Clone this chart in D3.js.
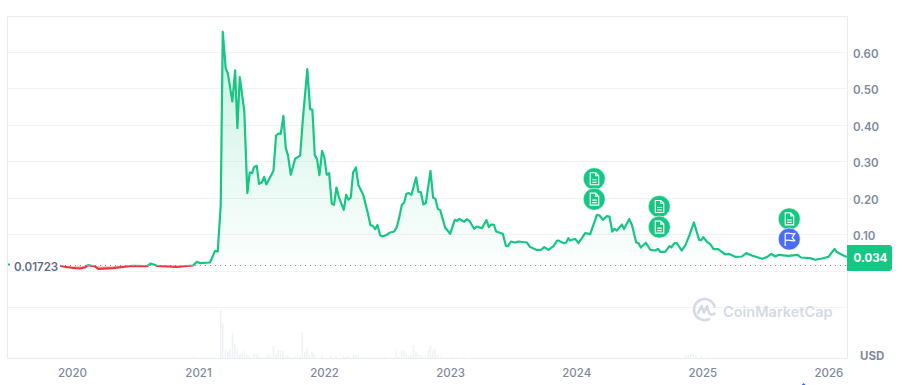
<!DOCTYPE html>
<html>
<head>
<meta charset="utf-8">
<style>
  html, body { margin: 0; padding: 0; background: #fff; }
  svg { display: block; }
  text { font-family: Inter, "Noto Sans", sans-serif; }
</style>
<script src="https://cdnjs.cloudflare.com/ajax/libs/d3/7.8.5/d3.min.js"></script>
</head>
<body>
<div id="chart"></div>
<script>
/*Price series: decimal year and price in USD*/
var priceYears = [
  2019.905,2019.944,2020.000,2020.063,2020.103,2020.127,2020.183,2020.209,2020.325,2020.405,2020.476,2020.595,2020.625,2020.675,2020.833,2020.960,2020.990,
  2021.016,2021.095,2021.135,2021.156,2021.171,2021.180,2021.196,2021.220,2021.236,2021.272,2021.294,2021.312,2021.331,2021.367,2021.391,2021.410,2021.429,2021.444,2021.466,2021.484,2021.506,2021.524,2021.542,2021.598,2021.619,2021.637,2021.656,2021.677,2021.696,2021.714,2021.736,2021.770,2021.791,2021.810,2021.831,2021.867,2021.889,2021.907,2021.926,2021.944,2021.963,2021.984,
  2022.002,2022.021,2022.040,2022.061,2022.079,2022.098,2022.117,2022.156,2022.175,2022.193,2022.212,2022.230,2022.252,2022.272,2022.310,2022.347,2022.367,2022.386,2022.405,2022.423,2022.444,2022.463,2022.498,2022.518,2022.556,2022.577,2022.595,2022.617,2022.635,2022.653,2022.672,2022.693,2022.730,2022.748,2022.767,2022.788,2022.807,2022.844,2022.865,2022.883,2022.902,2022.921,2022.960,
  2023.000,2023.037,2023.053,2023.074,2023.111,2023.133,2023.153,2023.190,2023.212,2023.252,2023.288,2023.307,2023.325,2023.347,2023.365,2023.418,2023.442,2023.458,2023.482,2023.516,2023.542,2023.609,2023.635,2023.683,2023.722,2023.746,2023.780,2023.820,2023.847,2023.859,2023.899,2023.921,2023.937,2023.952,2023.992,
  2024.018,2024.045,2024.071,2024.111,2024.164,2024.185,2024.212,2024.244,2024.264,2024.286,2024.304,2024.323,2024.363,2024.379,2024.421,2024.442,2024.476,2024.494,2024.513,2024.553,2024.587,2024.627,2024.648,2024.667,2024.706,2024.740,2024.754,2024.780,2024.799,2024.836,2024.867,2024.899,2024.934,2024.976,2024.994,
  2025.008,2025.037,2025.063,2025.090,2025.127,2025.151,2025.183,2025.209,2025.262,2025.315,2025.349,2025.394,2025.474,2025.513,2025.548,2025.579,2025.606,2025.685,2025.756,2025.783,2025.857,2025.897,2025.950,
  2026.002,2026.049,2026.068,2026.108,2026.147
];
var priceValues = [
  .0167,.0137,.0110,.0090,.0123,.0184,.0145,.0082,.0101,.0137,.0164,.0156,.0227,.0164,.0137,.0173,.0274,
  .0238,.0255,.0575,.0556,.134,.1836,.6576,.5554,.5444,.4666,.5516,.3937,.5335,.4392,.2156,.2721,.2704,.2869,.2904,.2411,.2447,.2603,.2392,.2767,.3735,.3789,.3781,.4274,.3389,.3178,.2658,.3096,.3143,.3186,.4164,.5554,.4458,.4438,.3197,.3088,.2649,.3315,
  .3132,.2658,.2704,.1863,.1836,.2310,.2047,.1699,.2110,.1973,.2036,.2721,.2858,.2376,.2110,.1608,.1280,.1260,.1170,.1280,.1006,.0967,.1014,.1069,.1104,.1225,.1471,.1836,.1899,.2137,.2156,.2110,.2584,.2192,.2184,.1844,.1882,.2767,.2027,.2000,.1726,.1690,.1214,
  .1041,.1425,.1397,.1452,.1370,.1444,.1397,.1178,.1241,.1197,.1417,.1225,.1296,.1288,.1104,.1041,.0712,.0704,.0830,.0803,.0830,.0803,.0677,.0603,.0603,.0677,.0603,.0704,.0849,.0858,.0786,.0803,.0923,.0858,.0904,
  .0786,.0923,.1060,.1033,.1562,.1543,.1425,.1526,.1515,.1104,.1178,.1132,.1296,.1170,.1444,.1288,.0803,.0786,.0666,.0795,.0603,.0584,.0630,.0548,.0548,.0704,.0666,.0786,.0786,.0584,.0732,.1014,.1351,.0869,.0877,
  .0951,.0822,.0759,.0622,.0622,.0556,.0474,.0493,.0411,.0419,.0512,.0447,.0356,.0403,.0493,.0419,.0466,.0438,.0466,.0392,.0375,.0329,.0364,
  .0411,.0630,.0540,.0466,.0403
];

/*Volume bars, in relative units*/
var volumeYears = [
  2020.963,2020.981,2021.122,2021.180,2021.196,2021.217,2021.236,2021.254,2021.273,2021.291,2021.312,2021.331,2021.349,2021.368,2021.386,2021.405,2021.447,2021.466,2021.484,2021.519,2021.540,2021.558,2021.577,2021.598,2021.617,2021.635,2021.654,2021.675,2021.693,2021.712,2021.730,2021.770,2021.789,2021.810,2021.828,2021.847,2021.865,2021.884,2021.905,2021.923,2021.942,2021.982,
  2022.000,2022.058,2022.095,2022.154,2022.175,2022.193,2022.233,2022.252,2022.270,2022.289,2022.326,2022.484,2022.572,2022.593,2022.614,2022.633,2022.651,2022.672,2022.691,2022.709,2022.728,2022.746,2022.768,2022.786,2022.805,2022.828,2022.844,2022.863,2022.881,2022.900,2022.921,2022.940,
  2023.016,2023.053,2023.112,2023.950,2024.390,2024.870,2024.890,2024.910,2024.930,2024.950,2024.990,2025.050
];
var volumeValues = [
  1.7,1.7,1,48.3,35,10,7.3,10,25.7,14.3,10,4.3,5.7,7.3,4.3,2.3,4.3,4.3,1.7,1,1.7,5,2.3,12.3,5,8.3,7.7,8.3,2.3,3.3,1,1.7,2.3,2.3,26.3,6.7,10,4.3,6.3,4,1,3,
  1,2.3,2.3,3,1.7,2.3,4.3,3.3,3.3,1.7,1,1.7,7.3,1.7,7.3,8.3,5,2.3,3.3,13.3,6.7,4.3,3.3,1.7,3.3,8.3,12.3,8.3,9.3,4.3,2.3,1,
  1.7,1.7,1.7,1,1,3,4,5,4.5,3,2,2
];

var yearTicks = [2020,2021,2022,2023,2024,2025,2026];
var priceTicks = [0.1,0.2,0.3,0.4,0.5,0.6];
var gridLevels = [0,0.1,0.2,0.3,0.4,0.5,0.6];
var basePrice = 0.01723;
var lastPrice = 0.034;

/*News and flag markers above the line*/
var eventYears = [2024.143,2024.143,2024.659,2024.659,2025.690,2025.690];
var eventLevels = [0.255,0.199,0.179,0.1225,0.145,0.0896];
var eventTypes = ["doc","doc","doc","doc","doc","flag"];

var canvasWidth = 906;
var canvasHeight = 385;
var green = "#16c784";
var red = "#ea3943";
var gridColor = "#f1f2f4";
var textColor = "#808a9d";

var left = 7.5, right = 847.5, top_ = 16.5, bottom = 358.5, sep = 307.5;

var svg = d3.select("div#chart").append("svg")
    .attr("width", canvasWidth)
    .attr("height", canvasHeight)
    .attr("viewBox", "0 0 906 385");

/*Scales*/
var xScale = d3.scaleLinear().domain([2020, 2026]).range([72, 828.3]);
var yScale = d3.scaleLinear().domain([0, 0.7]).range([271.8, 16.3]);
var volScale = d3.scaleLinear().domain([0, 48.3]).range([bottom, bottom - 48.3]);

var series = priceYears.map(function (d, i) { return {year: d, price: priceValues[i]}; });
var volumes = volumeYears.map(function (d, i) { return {year: d, volume: volumeValues[i]}; });
var events = eventYears.map(function (d, i) { return {year: d, level: eventLevels[i], type: eventTypes[i]}; });

var baseY = yScale(basePrice);

/*Gradients and clips for the parts above and below the opening price*/
var defs = svg.append("defs");

var gradUp = defs.append("linearGradient")
    .attr("id", "gradUp").attr("gradientUnits", "userSpaceOnUse")
    .attr("x1", 0).attr("x2", 0).attr("y1", yScale(0.66)).attr("y2", baseY);
gradUp.append("stop").attr("offset", 0).attr("stop-color", green).attr("stop-opacity", 0.24);
gradUp.append("stop").attr("offset", 1).attr("stop-color", green).attr("stop-opacity", 0.01);

var gradDown = defs.append("linearGradient")
    .attr("id", "gradDown").attr("gradientUnits", "userSpaceOnUse")
    .attr("x1", 0).attr("x2", 0).attr("y1", baseY).attr("y2", baseY + 4);
gradDown.append("stop").attr("offset", 0).attr("stop-color", red).attr("stop-opacity", 0.2);
gradDown.append("stop").attr("offset", 1).attr("stop-color", red).attr("stop-opacity", 0.45);

defs.append("clipPath").attr("id", "clipUp").append("rect")
    .attr("x", 0).attr("y", 0).attr("width", canvasWidth).attr("height", baseY);
defs.append("clipPath").attr("id", "clipDown").append("rect")
    .attr("x", 0).attr("y", baseY).attr("width", canvasWidth).attr("height", canvasHeight - baseY);

/*Grid lines and frame*/
svg.append("g").selectAll("line")
    .data(gridLevels)
    .join("line")
    .attr("x1", left).attr("x2", right)
    .attr("y1", function (d) { return Math.round(yScale(d)) - 0.5; })
    .attr("y2", function (d) { return Math.round(yScale(d)) - 0.5; })
    .attr("stroke", gridColor)
    .attr("stroke-width", 1);

svg.append("line")
    .attr("x1", left).attr("x2", right).attr("y1", sep).attr("y2", sep)
    .attr("stroke", gridColor);

svg.append("path")
    .attr("d", "M" + left + "," + bottom + "V" + top_ + "H" + right + "V" + bottom + "H" + left)
    .attr("fill", "none")
    .attr("stroke", "#e9ebee");

/*Volume bars*/
svg.append("g").selectAll("rect")
    .data(volumes)
    .join("rect")
    .attr("x", function (d) { return xScale(d.year) - 0.75; })
    .attr("y", function (d) { return volScale(d.volume); })
    .attr("width", 1.5)
    .attr("height", function (d) { return bottom - volScale(d.volume); })
    .attr("fill", "#eef1f5");

/*Area between the line and the opening price*/
var area = d3.area()
    .x(function (d) { return xScale(d.year); })
    .y0(baseY)
    .y1(function (d) { return yScale(d.price); });

var line = d3.line()
    .x(function (d) { return xScale(d.year); })
    .y(function (d) { return yScale(d.price); });

svg.append("path").datum(series)
    .attr("d", area)
    .attr("fill", "url(#gradUp)")
    .attr("clip-path", "url(#clipUp)");

svg.append("path").datum(series)
    .attr("d", area)
    .attr("fill", "url(#gradDown)")
    .attr("clip-path", "url(#clipDown)");

/*Dotted opening price line*/
svg.append("line")
    .attr("x1", 60).attr("x2", right)
    .attr("y1", baseY).attr("y2", baseY)
    .attr("stroke", "#808a9d")
    .attr("stroke-width", 1)
    .attr("stroke-dasharray", "1 4");

svg.append("path").datum(series)
    .attr("d", line)
    .attr("fill", "none")
    .attr("stroke", green)
    .attr("stroke-width", 2.2)
    .attr("stroke-linejoin", "round")
    .attr("clip-path", "url(#clipUp)");

svg.append("path").datum(series)
    .attr("d", line)
    .attr("fill", "none")
    .attr("stroke", red)
    .attr("stroke-width", 2.2)
    .attr("stroke-linejoin", "round")
    .attr("clip-path", "url(#clipDown)");

/*Little tick at the left edge and the opening price label*/
svg.append("line")
    .attr("x1", 8).attr("x2", 10)
    .attr("y1", baseY - 1).attr("y2", baseY - 1)
    .attr("stroke", green)
    .attr("stroke-width", 2);

svg.append("text")
    .attr("x", 14)
    .attr("y", baseY + 1.5)
    .attr("dy", "0.35em")
    .attr("fill", "#616e85")
    .style("font-size", "11.5px")
    .style("font-weight", 600)
    .text(basePrice);

/*X axis*/
var xAxis = svg.append("g")
    .attr("transform", "translate(0," + 360 + ")")
    .call(d3.axisBottom(xScale).tickValues(yearTicks).tickFormat(d3.format("d")).tickSize(0).tickPadding(9));
xAxis.select(".domain").remove();
xAxis.selectAll("text")
    .attr("fill", textColor)
    .style("font-family", "Inter")
    .style("font-size", "11.5px")
    .style("font-weight", 500);

/*Y axis*/
var yAxis = svg.append("g")
    .attr("transform", "translate(" + 853 + ",0.8)")
    .call(d3.axisRight(yScale).tickValues(priceTicks).tickFormat(d3.format(".2f")).tickSize(0).tickPadding(0));
yAxis.select(".domain").remove();
yAxis.selectAll("text")
    .attr("fill", textColor)
    .style("font-family", "Inter")
    .style("font-size", "11.5px")
    .style("font-weight", 600);

svg.append("text")
    .attr("x", 860)
    .attr("y", 355.5)
    .attr("dy", "0.35em")
    .attr("fill", textColor)
    .style("font-size", "11.5px")
    .style("font-weight", 700)
    .text("USD");

/*Last price tag*/
svg.append("path")
    .attr("d", "M847,245H889a3,3 0 0 1 3,3V268a3,3 0 0 1 -3,3H847Z")
    .attr("fill", green);

svg.append("text")
    .attr("x", 853.5)
    .attr("y", 258)
    .attr("dy", "0.35em")
    .attr("fill", "#fff")
    .style("font-size", "11.5px")
    .style("font-weight", 700)
    .text(lastPrice.toFixed(3));

/*Watermark*/
var logo = svg.append("g").attr("transform", "translate(704,310)");
logo.append("path")
    .attr("d", "M10.5,-3.5A10.5,10.5 0 1 0 5,9")
    .attr("fill", "none")
    .attr("stroke", "#d5dae6")
    .attr("stroke-width", 2.6)
    .attr("stroke-linecap", "round");
logo.append("path")
    .attr("d", "M-6,3L-2.5,-4L0,2.5L3,-4L5,3Q7,6 10.5,3.5")
    .attr("fill", "none")
    .attr("stroke", "#d5dae6")
    .attr("stroke-width", 2.6)
    .attr("stroke-linecap", "round")
    .attr("stroke-linejoin", "round");

svg.append("text")
    .attr("x", 723)
    .attr("y", 311.5)
    .attr("dy", "0.35em")
    .attr("fill", "#d5dae6")
    .style("font-size", "14.5px")
    .style("font-weight", 600)
    .text("CoinMarketCap");

/*Event markers*/
var marks = svg.append("g").selectAll("g")
    .data(events)
    .join("g")
    .attr("transform", function (d) { return "translate(" + xScale(d.year) + "," + yScale(d.level) + ")"; });

marks.append("circle")
    .attr("r", 11)
    .attr("fill", function (d) { return d.type == "flag" ? "#4a6df5" : green; })
    .attr("stroke", "#fff")
    .attr("stroke-width", 0.6);

marks.filter(function (d) { return d.type == "doc"; }).append("path")
    .attr("d", "M-4,-6H1.5L4.5,-3V6H-4ZM1.5,-6V-3H4.5M-2,1H2.5M-2,3.5H2.5")
    .attr("fill", "none")
    .attr("stroke", "#fff")
    .attr("stroke-width", 1.1);

marks.filter(function (d) { return d.type == "flag"; }).append("path")
    .attr("d", "M-4,7V-5.5C-1,-7 1.5,-4.5 5.5,-5.5L3,-1.5L5.5,1.5C2,2.5 -1,0 -4,1.5")
    .attr("fill", "none")
    .attr("stroke", "#fff")
    .attr("stroke-width", 1.2);

/*Tip of a marker that is cut off by the bottom of the picture*/
svg.append("path")
    .attr("d", "M803.6,383L805.6,385H801.6Z")
    .attr("fill", "#3861fb");
</script>
</body>
</html>
